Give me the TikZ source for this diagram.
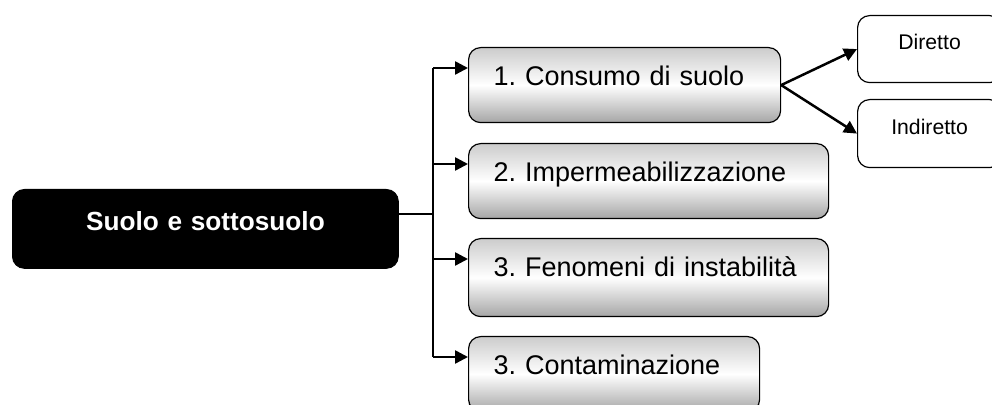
\documentclass[tikz,border=0pt]{standalone}
\usepackage{fontspec}
\setmainfont{Liberation Sans}
\usetikzlibrary{arrows.meta, positioning, calc}
\frenchspacing

\begin{document}
\begin{tikzpicture}[x=0.5pt, y=-0.5pt]
    \tikzstyle{topic} = [draw, line width=0.6pt, rectangle, rounded corners=6pt, anchor=north west, align=left,
        top color=gray!40, bottom color=gray!70, middle color=white,
        inner xsep=12.5pt, inner ysep=0pt, text height=19pt, text depth=18.5pt, font=\fontsize{13.5}{16}\selectfont]
    \tikzstyle{leaf} = [draw, line width=0.6pt, rectangle, rounded corners=6pt, anchor=north west, fill=white,
        align=center, inner xsep=0pt, inner ysep=0pt, text width=72pt, text height=17pt, text depth=16.5pt,
        font=\fontsize{10.6}{12}\selectfont]
    \tikzstyle{link} = [line width=1.25pt]
    \tikzstyle{arrow} = [line width=1.25pt, -{Triangle[length=6.5pt, width=6.5pt]}]

    \useasboundingbox (0,0) rectangle (992,405);
    \clip (0,0) rectangle (992,405);

    \node[draw, fill=black, rounded corners=6pt, anchor=north west, text=white, align=center,
        inner xsep=0pt, inner ysep=0pt, text width=193pt, text height=20.5pt, text depth=19pt,
        font=\fontsize{13.1}{15}\selectfont\bfseries] (soil) at (12, 189) {Suolo e sottosuolo};

    \node[topic, text width=131pt] (consumo) at (468, 47) {1. Consumo di suolo};
    \node[topic, text width=155pt] (imperm) at (468, 143) {2. Impermeabilizzazione};
    \node[topic, text width=155pt, text depth=20pt] (instab) at (468, 238) {3. Fenomeni di instabilità};
    \node[topic, text width=120.5pt] (contam) at (468, 336) {3. Contaminazione};

    \node[leaf] (diretto) at (857, 15) {Diretto};
    \node[leaf, text height=17.5pt] (indiretto) at (857, 99) {Indiretto};

    % trunk and branches
    \coordinate (soilout) at ($(soil.north east)+(0,25)$);
    \coordinate (bus) at (433, 214);
    \foreach \t in {consumo, imperm, instab, contam}
        \coordinate (\t-in) at ($(\t.north west)+(0,21)$);

    \draw[link] (soilout) -- (bus);
    \draw[link] (bus |- consumo-in) -- (bus |- contam-in);
    \foreach \t in {consumo, imperm, instab, contam}
        \draw[arrow] (bus |- \t-in) -- (\t-in);

    \draw[arrow] (consumo.east) -- (diretto.west);
    \draw[arrow] (consumo.east) -- (indiretto.west);
\end{tikzpicture}
\end{document}
